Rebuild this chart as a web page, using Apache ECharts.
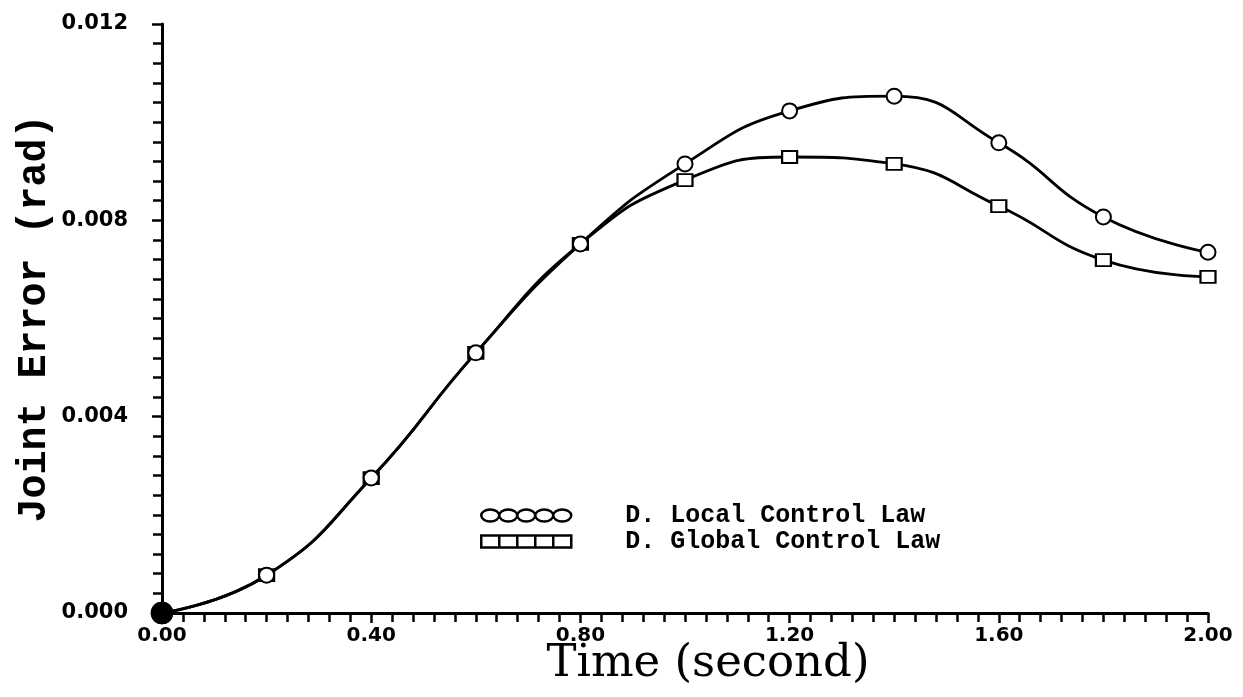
<!DOCTYPE html>
<html>
<head>
<meta charset="utf-8">
<script src="https://cdn.jsdelivr.net/npm/echarts@6/dist/echarts.min.js"></script>
<style>
html,body{margin:0;padding:0;background:#fff;}
#chart{width:1243px;height:697px;}
</style>
</head>
<body>
<div id="chart"></div>
<script>
var timeValues = [0.0, 0.2, 0.4, 0.6, 0.8, 1.0, 1.2, 1.4, 1.6, 1.8, 2.0];
var localLaw = [0.0, 0.00077, 0.00275, 0.0053, 0.00752, 0.00915, 0.01023, 0.01053, 0.00958, 0.00807, 0.00735];
var globalLaw = [0.0, 0.00077, 0.00275, 0.0053, 0.00752, 0.00882, 0.00929, 0.00915, 0.00829, 0.00719, 0.00685];
var seriesNames = ['D. Local Control Law', 'D. Global Control Law'];
var xTitle = 'Time (second)';
var yTitle = 'Joint Error (rad)';

function pairs(vals) {
  return timeValues.map(function (t, i) {
    var item = { value: [t, vals[i]] };
    if (i === 0) {
      item.symbol = 'circle';
      item.symbolSize = 20;
      item.itemStyle = { color: '#000', borderColor: '#000' };
    }
    return item;
  });
}

var circleChain = 'path://M0,6 A9,6 0 1,1 18,6 A9,6 0 1,1 0,6 Z M18,6 A9,6 0 1,1 36,6 A9,6 0 1,1 18,6 Z M36,6 A9,6 0 1,1 54,6 A9,6 0 1,1 36,6 Z M54,6 A9,6 0 1,1 72,6 A9,6 0 1,1 54,6 Z M72,6 A9,6 0 1,1 90,6 A9,6 0 1,1 72,6 Z';
var rectChain = 'path://M0,0 L18,0 L18,12 L0,12 Z M18,0 L36,0 L36,12 L18,12 Z M36,0 L54,0 L54,12 L36,12 Z M54,0 L72,0 L72,12 L54,12 Z M72,0 L90,0 L90,12 L72,12 Z';

var chart = echarts.init(document.getElementById('chart'));
chart.setOption({
  backgroundColor: '#fff',
  animation: false,
  grid: { left: 162, right: 35, top: 24, bottom: 84, containLabel: false, outerBoundsMode: 'none' },
  legend: {
    left: 475,
    top: 498,
    orient: 'vertical',
    itemWidth: 90,
    itemHeight: 12,
    itemGap: 1,
    textStyle: {
      fontFamily: 'Liberation Mono',
      fontWeight: 'bold',
      fontSize: 25,
      color: '#000',
      padding: [0, 0, 0, 49]
    },
    data: [
      { name: seriesNames[0], icon: circleChain, itemStyle: { color: '#fff', borderColor: '#000', borderWidth: 2.5 } },
      { name: seriesNames[1], icon: rectChain, itemStyle: { color: '#fff', borderColor: '#000', borderWidth: 2.5 } }
    ]
  },
  xAxis: {
    type: 'value',
    min: 0,
    max: 2,
    interval: 0.4,
    name: xTitle,
    nameLocation: 'middle',
    nameMoveOverlap: false,
    nameGap: 29,
    nameTextStyle: { fontFamily: 'DejaVu Serif', fontSize: 45, color: '#000', padding: [0, 0, 0, 46] },
    axisLine: { show: true, lineStyle: { color: '#000', width: 3 } },
    axisTick: { show: true, length: 10, lineStyle: { color: '#000', width: 2.5 } },
    minorTick: { show: true, splitNumber: 10, length: 9, lineStyle: { color: '#000', width: 2.5 } },
    splitLine: { show: false },
    minorSplitLine: { show: false },
    axisLabel: {
      margin: 13,
      fontFamily: 'DejaVu Sans',
      fontWeight: 'bold',
      fontSize: 20,
      color: '#000',
      formatter: function (v) { return v.toFixed(2); }
    }
  },
  yAxis: {
    type: 'value',
    min: 0,
    max: 0.012,
    interval: 0.004,
    name: yTitle,
    nameLocation: 'middle',
    nameMoveOverlap: false,
    nameGap: 107,
    nameTextStyle: { fontFamily: 'Liberation Mono', fontWeight: 'bold', fontSize: 40, color: '#000' },
    axisLine: { show: true, lineStyle: { color: '#000', width: 3 } },
    axisTick: { show: true, length: 10, lineStyle: { color: '#000', width: 2.5 } },
    minorTick: { show: true, splitNumber: 10, length: 9, lineStyle: { color: '#000', width: 2.5 } },
    splitLine: { show: false },
    minorSplitLine: { show: false },
    axisLabel: {
      margin: 34,
      fontFamily: 'DejaVu Sans',
      fontWeight: 'bold',
      fontSize: 21,
      color: '#000',
      formatter: function (v) { return v.toFixed(3); }
    }
  },
  series: [
    {
      name: seriesNames[0],
      type: 'line',
      smooth: 0.5,
      data: pairs(localLaw),
      symbol: 'emptyCircle',
      symbolSize: 15,
      lineStyle: { color: '#000', width: 2.8 },
      itemStyle: { color: '#000', borderColor: '#000', borderWidth: 2.5 },
      z: 3
    },
    {
      name: seriesNames[1],
      type: 'line',
      smooth: 0.5,
      data: pairs(globalLaw),
      symbol: 'emptyRect',
      symbolSize: [15, 12],
      lineStyle: { color: '#000', width: 2.8 },
      itemStyle: { color: '#000', borderColor: '#000', borderWidth: 2.5 },
      z: 2
    }
  ]
});
</script>
</body>
</html>
